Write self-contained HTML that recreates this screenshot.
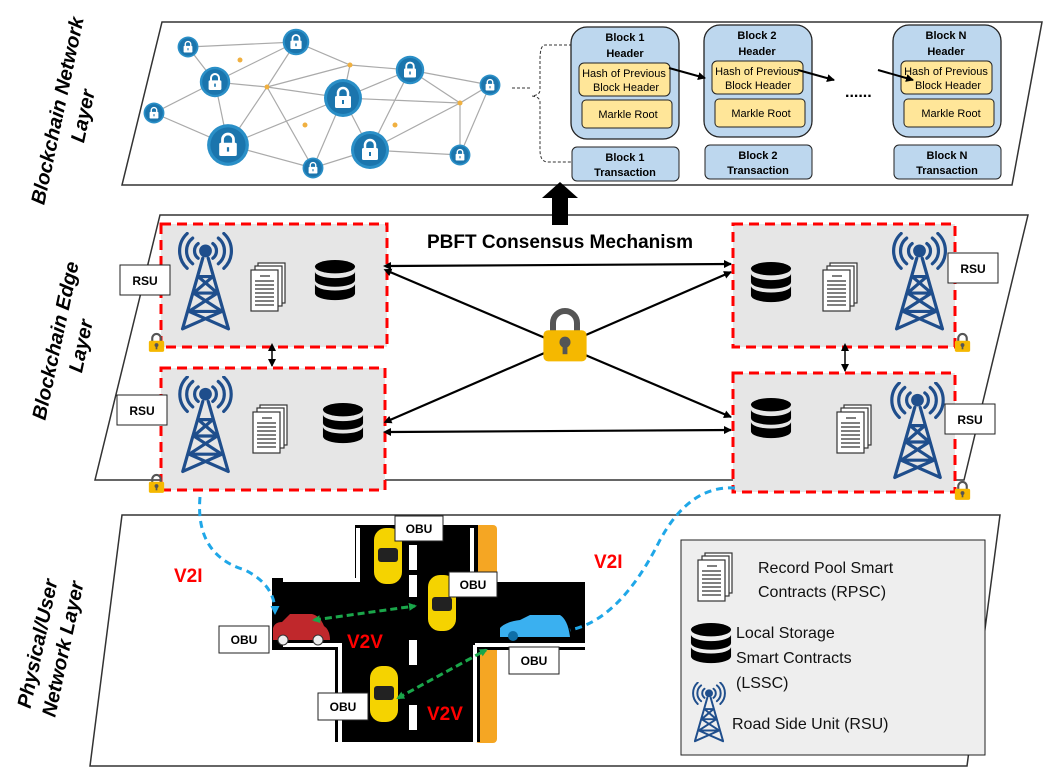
<!DOCTYPE html>
<html><head><meta charset="utf-8"><style>
html,body{margin:0;padding:0;background:#fff}
svg{display:block}
text{font-family:"Liberation Sans",Arial,sans-serif}
.b{font-weight:bold}
</style></head><body>
<svg width="1063" height="783" viewBox="0 0 1063 783" xmlns="http://www.w3.org/2000/svg">
<defs>
<marker id="ah" markerWidth="8" markerHeight="8" refX="7" refY="4" orient="auto" markerUnits="userSpaceOnUse"><path d="M0,0 L8,4 L0,8 z" fill="#000"/></marker>
<marker id="ahs" markerWidth="8" markerHeight="8" refX="1" refY="4" orient="auto-start-reverse" markerUnits="userSpaceOnUse"><path d="M0,0 L8,4 L0,8 z" fill="#000"/></marker>
<marker id="ag" markerWidth="8" markerHeight="8" refX="6" refY="4" orient="auto-start-reverse" markerUnits="userSpaceOnUse"><path d="M0,0 L8,4 L0,8 z" fill="#1aa64a"/></marker>
<marker id="ab" markerWidth="9" markerHeight="9" refX="6" refY="4.5" orient="auto" markerUnits="userSpaceOnUse"><path d="M0,0 L9,4.5 L0,9 z" fill="#1fa7e8"/></marker>
<symbol id="tower" viewBox="0 0 60 110">
<g fill="none" stroke="#1f4e8c" stroke-width="3.5" stroke-linecap="round">
<path d="M22,12 a10,10 0 0 0 0,16 M16,6 a18,18 0 0 0 0,28 M10,1 a26,26 0 0 0 0,38"/>
<path d="M38,12 a10,10 0 0 1 0,16 M44,6 a18,18 0 0 1 0,28 M50,1 a26,26 0 0 1 0,38"/>
<path d="M27,28 L5,105 M33,28 L55,105 M22,48 L38,48 M17,66 L43,66 M12,86 L48,86 M22,48 L43,66 L12,86 L55,105 M38,48 L17,66 L48,86 L5,105"/>
</g><circle cx="30" cy="20" r="7" fill="#1f4e8c"/></symbol>
<symbol id="docs" viewBox="0 0 36 50">
<g fill="#fff" stroke="#333" stroke-width="1.2"><rect x="8" y="1" width="27" height="40"/><rect x="5" y="4" width="27" height="40"/><rect x="1" y="8" width="27" height="41"/></g>
<g stroke="#333" stroke-width="1.3"><path d="M10,14 h10 M5,19 h19 M5,23 h19 M5,27 h19 M5,31 h19 M5,35 h19 M5,39 h19 M5,43 h19"/></g></symbol>
<symbol id="db" viewBox="0 0 44 44">
<g fill="#000"><ellipse cx="22" cy="7" rx="21" ry="7"/><path d="M1,12 a21,7 0 0 0 42,0 v9 a21,7 0 0 1 -42,0z"/><path d="M1,25 a21,7 0 0 0 42,0 v10 a21,7 0 0 1 -42,0z"/></g></symbol>
<symbol id="lk" viewBox="0 0 20 24">
<path d="M5,11 V7 a5,5 0 0 1 10,0 V11" fill="none" stroke="#555" stroke-width="2.5"/>
<rect x="1" y="10" width="18" height="13" rx="2" fill="#f5b800"/><circle cx="10" cy="15" r="2.3" fill="#555"/><rect x="9" y="15" width="2" height="5" fill="#555"/></symbol>
<symbol id="nn" viewBox="0 0 40 40">
<circle cx="20" cy="20" r="19" fill="#2a8fc7"/><circle cx="20" cy="20" r="16" fill="#1b75ad"/>
<path d="M15,19 V15 a5,5 0 0 1 10,0 V19" fill="none" stroke="#fff" stroke-width="2.5"/>
<rect x="12" y="18" width="16" height="12" rx="1.5" fill="#fff"/><rect x="19" y="22" width="2" height="4" fill="#1b75ad"/></symbol>
</defs>

<polygon points="162,22 1042,22 1012,185 122,185" fill="#fff" stroke="#333" stroke-width="1.5"/>
<polygon points="160,215 1028,215 964,480 95,480" fill="#fff" stroke="#333" stroke-width="1.5"/>
<polygon points="122,515 1000,515 967,766 90,766" fill="#fff" stroke="#333" stroke-width="1.5"/>

<text class="b" font-size="20" font-style="italic" transform="translate(64,112) rotate(-78)" text-anchor="middle"><tspan x="0" y="0">Blockchain Network</tspan><tspan x="0" y="26">Layer</tspan></text>
<text class="b" font-size="20" font-style="italic" transform="translate(62,342) rotate(-78)" text-anchor="middle"><tspan x="0" y="0">Blockchain Edge</tspan><tspan x="0" y="26">Layer</tspan></text>
<text class="b" font-size="20" font-style="italic" transform="translate(44,645) rotate(-78)" text-anchor="middle"><tspan x="0" y="0">Physical/User</tspan><tspan x="0" y="26">Network Layer</tspan></text>

<g stroke="#aaa" stroke-width="1.2" fill="none">
<path d="M188,47 L296,42 L350,65 L410,70 L490,85 M188,47 L215,82 L296,42 M215,82 L154,113 L228,145 L215,82 L267,87 L296,42 M267,87 L343,98 L350,65 L296,42 M228,145 L313,168 L370,150 L460,155 L490,85 L460,103 L410,70 L343,98 L370,150 L410,70 M228,145 L267,87 L313,168 L343,98 M460,103 L460,155 M370,150 L460,103 L343,98 M313,168 L343,98 M154,113 L228,145 L343,98 M267,87 L350,65"/>
</g>
<g fill="#f0b040"><circle cx="267" cy="87" r="2.5"/><circle cx="350" cy="65" r="2.5"/><circle cx="460" cy="103" r="2.5"/><circle cx="305" cy="125" r="2.5"/><circle cx="395" cy="125" r="2.5"/><circle cx="240" cy="60" r="2.5"/></g>
<use href="#nn" x="177" y="36" width="22" height="22"/>
<use href="#nn" x="282" y="28" width="28" height="28"/>
<use href="#nn" x="199" y="66" width="32" height="32"/>
<use href="#nn" x="143" y="102" width="22" height="22"/>
<use href="#nn" x="206" y="123" width="44" height="44"/>
<use href="#nn" x="302" y="157" width="22" height="22"/>
<use href="#nn" x="323" y="78" width="40" height="40"/>
<use href="#nn" x="350" y="130" width="40" height="40"/>
<use href="#nn" x="395" y="55" width="30" height="30"/>
<use href="#nn" x="479" y="74" width="22" height="22"/>
<use href="#nn" x="449" y="144" width="22" height="22"/>

<path d="M572,45 H545 Q540,45 540,60 V90 Q540,95 532,96 Q540,97 540,102 V150 Q540,162 548,162 H572" fill="none" stroke="#333" stroke-dasharray="3,2"/>
<path d="M512,88 H532" stroke="#333" stroke-dasharray="3,2"/>

<g font-size="11" text-anchor="middle">
<g>
<rect x="571" y="27" width="108" height="112" rx="16" fill="#bdd7ee" stroke="#222" stroke-width="1.3"/>
<text class="b" x="625" y="41">Block 1</text><text class="b" x="625" y="57">Header</text>
<rect x="579" y="63" width="91" height="33" rx="5" fill="#ffe699" stroke="#222"/>
<text x="624" y="77">Hash of Previous</text><text x="626" y="91">Block Header</text>
<rect x="582" y="100" width="90" height="28" rx="4" fill="#ffe699" stroke="#222"/><text x="628" y="118">Markle Root</text>
<rect x="572" y="147" width="107" height="34" rx="5" fill="#bdd7ee" stroke="#222"/><text class="b" x="625" y="161">Block 1</text><text class="b" x="625" y="176">Transaction</text>
</g>
<g>
<rect x="704" y="25" width="108" height="112" rx="16" fill="#bdd7ee" stroke="#222" stroke-width="1.3"/>
<text class="b" x="757" y="39">Block 2</text><text class="b" x="757" y="55">Header</text>
<rect x="712" y="61" width="91" height="33" rx="5" fill="#ffe699" stroke="#222"/>
<text x="757" y="75">Hash of Previous</text><text x="758" y="89">Block Header</text>
<rect x="715" y="99" width="90" height="28" rx="4" fill="#ffe699" stroke="#222"/><text x="761" y="117">Markle Root</text>
<rect x="705" y="145" width="107" height="34" rx="5" fill="#bdd7ee" stroke="#222"/><text class="b" x="758" y="159">Block 2</text><text class="b" x="758" y="174">Transaction</text>
</g>
<g>
<rect x="893" y="25" width="108" height="112" rx="16" fill="#bdd7ee" stroke="#222" stroke-width="1.3"/>
<text class="b" x="946" y="39">Block N</text><text class="b" x="946" y="55">Header</text>
<rect x="901" y="61" width="91" height="33" rx="5" fill="#ffe699" stroke="#222"/>
<text x="946" y="75">Hash of Previous</text><text x="948" y="89">Block Header</text>
<rect x="904" y="99" width="90" height="28" rx="4" fill="#ffe699" stroke="#222"/><text x="951" y="117">Markle Root</text>
<rect x="894" y="145" width="107" height="34" rx="5" fill="#bdd7ee" stroke="#222"/><text class="b" x="947" y="159">Block N</text><text class="b" x="947" y="174">Transaction</text>
</g>
</g>
<g stroke="#000" stroke-width="2" marker-end="url(#ah)"><path d="M669,68 L705,78"/><path d="M798,70 L834,80"/><path d="M878,70 L913,80"/></g>
<text x="845" y="97" font-size="16" class="b">......</text>

<polygon points="560,182 578,198 568,198 568,225 552,225 552,198 542,198" fill="#000"/>
<text class="b" x="560" y="248" font-size="19" text-anchor="middle">PBFT Consensus Mechanism</text>

<g fill="#e6e6e6" stroke="#f00" stroke-width="3" stroke-dasharray="10,6">
<rect x="161" y="224" width="226" height="123"/>
<rect x="161" y="368" width="224" height="122"/>
<rect x="733" y="224" width="222" height="123"/>
<rect x="733" y="373" width="222" height="119"/>
</g>
<use href="#tower" x="178" y="232" width="55" height="102"/>
<use href="#docs" x="250" y="262" width="36" height="50"/>
<use href="#db" x="314" y="260" width="42" height="42"/>
<use href="#tower" x="178" y="376" width="55" height="100"/>
<use href="#docs" x="252" y="404" width="36" height="50"/>
<use href="#db" x="322" y="403" width="42" height="42"/>
<use href="#db" x="750" y="262" width="42" height="42"/>
<use href="#docs" x="822" y="262" width="36" height="50"/>
<use href="#tower" x="892" y="232" width="55" height="102"/>
<use href="#db" x="750" y="398" width="42" height="42"/>
<use href="#docs" x="836" y="404" width="36" height="50"/>
<use href="#tower" x="890" y="382" width="55" height="100"/>

<g font-size="12" class="b" text-anchor="middle">
<rect x="120" y="265" width="50" height="30" fill="#fff" stroke="#222"/><text x="145" y="285">RSU</text>
<rect x="117" y="395" width="50" height="30" fill="#fff" stroke="#222"/><text x="142" y="415">RSU</text>
<rect x="948" y="253" width="50" height="30" fill="#fff" stroke="#222"/><text x="973" y="273">RSU</text>
<rect x="945" y="404" width="50" height="30" fill="#fff" stroke="#222"/><text x="970" y="424">RSU</text>
</g>
<use href="#lk" x="148" y="332" width="17" height="21"/>
<use href="#lk" x="148" y="473" width="17" height="21"/>
<use href="#lk" x="954" y="332" width="17" height="21"/>
<use href="#lk" x="954" y="480" width="17" height="21"/>

<g stroke="#000" stroke-width="2.2" marker-end="url(#ah)" marker-start="url(#ahs)">
<path d="M390,266 L731,264"/>
<path d="M390,432 L731,430"/>
<path d="M390,272 L731,417"/>
<path d="M390,420 L731,272"/>
<path d="M272,350 L272,366" stroke-width="1.5"/>
<path d="M845,350 L845,371" stroke-width="1.5"/>
</g>
<use href="#lk" x="541" y="304" width="48" height="62"/>

<g>
<rect x="475" y="525" width="22" height="218" rx="4" fill="#f5a623"/>
<path d="M355,525 H478 V578 H585 V650 H480 V742 H335 V650 H272 V578 H355 Z" fill="#000"/>
<path d="M283,580 H358 V528 M472,528 V580 M472,580 H585 M283,645 H340 V742 M475,645 V742 M475,645 H585" fill="none" stroke="#fff" stroke-width="4"/>
<g fill="#fff"><rect x="409" y="545" width="8" height="25"/><rect x="409" y="575" width="8" height="22"/><rect x="409" y="640" width="8" height="25"/><rect x="409" y="705" width="8" height="25"/></g>
</g>
<g>
<rect x="374" y="528" width="28" height="56" rx="12" fill="#f5d300"/><rect x="378" y="548" width="20" height="14" rx="3" fill="#222"/>
<rect x="428" y="575" width="28" height="56" rx="12" fill="#f5d300"/><rect x="432" y="597" width="20" height="14" rx="3" fill="#222"/>
<rect x="370" y="666" width="28" height="56" rx="12" fill="#f5d300"/><rect x="374" y="686" width="20" height="14" rx="3" fill="#222"/>
<path d="M273,640 V628 Q275,622 282,622 L290,614 H312 Q320,616 324,626 Q330,630 330,640 Z" fill="#c0282c"/><circle cx="283" cy="640" r="5" fill="#eee" stroke="#333"/><circle cx="318" cy="640" r="5" fill="#eee" stroke="#333"/>
<path d="M500,637 V628 Q505,622 520,620 L530,615 H560 Q568,620 570,637 Z" fill="#3ab0f0"/><circle cx="513" cy="636" r="5" fill="#0e6fa8"/>
</g>
<g font-size="12" class="b" text-anchor="middle">
<rect x="395" y="516" width="48" height="25" fill="#fff" stroke="#222"/><text x="419" y="533">OBU</text>
<rect x="449" y="572" width="48" height="25" fill="#fff" stroke="#222"/><text x="473" y="589">OBU</text>
<rect x="219" y="626" width="50" height="27" fill="#fff" stroke="#222"/><text x="244" y="644">OBU</text>
<rect x="509" y="647" width="50" height="27" fill="#fff" stroke="#222"/><text x="534" y="665">OBU</text>
<rect x="318" y="693" width="50" height="27" fill="#fff" stroke="#222"/><text x="343" y="711">OBU</text>
</g>
<g stroke="#1aa64a" stroke-width="3" stroke-dasharray="7,4" fill="none" marker-end="url(#ag)" marker-start="url(#ag)">
<path d="M314,620 L415,606"/>
<path d="M398,698 L486,650"/>
</g>
<g stroke="#1fa7e8" stroke-width="3" stroke-dasharray="7,5" fill="none">
<path d="M200,497 Q195,555 245,570 Q275,585 275,612" marker-end="url(#ab)"/>
<path d="M735,488 Q690,485 660,540 Q620,620 570,630"/>
</g>
<g fill="#f00" class="b" font-size="19">
<text x="174" y="582">V2I</text><text x="594" y="568">V2I</text>
<text x="347" y="648">V2V</text><text x="427" y="720">V2V</text>
</g>

<rect x="681" y="540" width="304" height="215" fill="#eeeeee" stroke="#222" stroke-width="1"/>
<use href="#docs" x="697" y="552" width="36" height="50"/>
<use href="#db" x="690" y="623" width="42" height="42"/>
<use href="#tower" x="690" y="682" width="38" height="62"/>
<g font-size="16" fill="#111">
<text x="758" y="573">Record Pool Smart</text><text x="758" y="597">Contracts (RPSC)</text>
<text x="736" y="638">Local Storage</text><text x="736" y="663">Smart Contracts</text><text x="736" y="688">(LSSC)</text>
<text x="732" y="729">Road Side Unit (RSU)</text>
</g>
</svg>
</body></html>
